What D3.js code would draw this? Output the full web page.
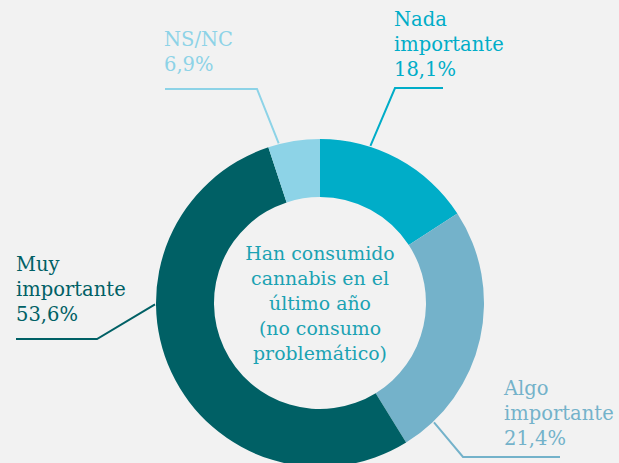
<!DOCTYPE html>
<html>
<head>
<meta charset="utf-8">
<script src="https://cdn.jsdelivr.net/npm/d3@7"></script>
<style>
    html, body { margin: 0; padding: 0; background: #f2f2f2; }
    svg { display: block; font-family: "DejaVu Serif", serif; }
</style>
</head>
<body>
<div id="chart"></div>
<script>
// categories, in drawing order (clockwise from 12 o'clock)
const categories = ["Nada importante", "Algo importante", "Muy importante", "NS/NC"];
// percentages printed in the labels
const labelValues = [18.1, 21.4, 53.6, 6.9];
// share of the ring each slice actually takes in the picture
const arcShares = [15.8, 25.4, 53.7, 5.1];
const labelLines = [["Nada", "importante"], ["Algo", "importante"], ["Muy", "importante"], ["NS/NC"]];
const centerLines = ["Han consumido", "cannabis en el", "último año", "(no consumo", "problemático)"];

const colors = ["#00adc8", "#74b2ca", "#006065", "#8dd3e7"];

// label layout: text anchor, leader start angle (deg), elbow and end of the leader
const layout = [
    { tx: 394, ty: 26, startDeg: 17.8, elbow: [395, 88], end: [443, 88] },
    { tx: 504, ty: 395, startDeg: 136.3, elbow: [463, 457], end: [560, 457] },
    { tx: 16, ty: 271, startDeg: 269.5, elbow: [97, 339], end: [16, 339] },
    { tx: 164, ty: 46, startDeg: 345.5, elbow: [257, 89], end: [165, 89] }
];

const width = 619, height = 463;
const cx = 320, cy = 303, outerR = 164, innerR = 106;

const svg = d3.select("#chart").append("svg")
    .attr("width", width)
    .attr("height", height);

svg.append("rect")
    .attr("width", width)
    .attr("height", height)
    .attr("fill", "#f2f2f2");

const data = categories.map((c, i) => ({ name: c, share: arcShares[i], value: labelValues[i], i: i }));

const pie = d3.pie().sort(null).value(d => d.share);
const arc = d3.arc().innerRadius(innerR).outerRadius(outerR);

const g = svg.append("g").attr("transform", `translate(${cx},${cy})`);

g.selectAll("path")
    .data(pie(data))
    .join("path")
    .attr("d", arc)
    .attr("fill", d => colors[d.data.i]);

// leader lines
const fmt = v => d3.format(".1f")(v).replace(".", ",") + "%";
const line = d3.line();

svg.selectAll("path.leader")
    .data(data)
    .join("path")
    .classed("leader", true)
    .attr("d", d => {
        const L = layout[d.i];
        const a = L.startDeg * Math.PI / 180;
        const start = [cx + (outerR + 1) * Math.sin(a), cy - (outerR + 1) * Math.cos(a)];
        return line([start, L.elbow, L.end]);
    })
    .attr("fill", "none")
    .attr("stroke", d => colors[d.i])
    .attr("stroke-width", 2);

// slice labels
const labels = svg.selectAll("text.slice-label")
    .data(data)
    .join("text")
    .classed("slice-label", true)
    .attr("x", d => layout[d.i].tx)
    .attr("y", d => layout[d.i].ty)
    .attr("fill", d => colors[d.i])
    .style("font-size", "19.5px");

labels.selectAll("tspan")
    .data(d => [...labelLines[d.i], fmt(d.value)].map(t => ({ t, x: layout[d.i].tx })))
    .join("tspan")
    .attr("x", d => d.x)
    .attr("dy", (d, i) => i === 0 ? 0 : 25)
    .text(d => d.t);

// center text
svg.append("text")
    .attr("x", cx)
    .attr("y", 260)
    .attr("text-anchor", "middle")
    .attr("fill", "#1ba2b3")
    .style("font-size", "18.9px")
    .selectAll("tspan")
    .data(centerLines)
    .join("tspan")
    .attr("x", cx)
    .attr("dy", (d, i) => i === 0 ? 0 : 25)
    .text(d => d);
</script>
</body>
</html>
